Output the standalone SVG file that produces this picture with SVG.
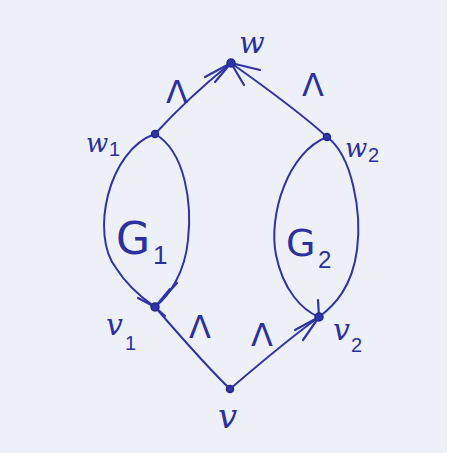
<svg xmlns="http://www.w3.org/2000/svg" width="450" height="457" viewBox="0 0 450 457">
<style>
.ln{fill:none;stroke:#2e35a8;stroke-width:2;stroke-linecap:round;stroke-linejoin:round}
.ar{fill:none;stroke:#2e35a8;stroke-width:2.2;stroke-linecap:round}
.dot{fill:#2e35a8;stroke:#23298c;stroke-width:1.5}
.lb{font-family:"DejaVu Serif","Liberation Serif",serif;font-style:italic;fill:#2a30a0}
.up{font-family:"DejaVu Sans","Liberation Sans",sans-serif;font-style:normal;fill:#2a30a0}
.sub{font-family:"Liberation Sans",sans-serif;fill:#2a30a0}
.lam{font-family:"DejaVu Sans","Liberation Sans",sans-serif;fill:#2a30a0;font-size:32px}
</style>
<rect x="0" y="0" width="450" height="457" fill="#eef0f8"/>
<rect x="447" y="0" width="3" height="457" fill="#ffffff"/>
<rect x="0" y="453" width="450" height="4" fill="#ffffff"/>
<g id="connectors">
<path class="ln" d="M155,134 C175,112 200,88 231,63"/>
<path class="ln" d="M231,63 C262,85 300,112 327,137"/>
<path class="ln" d="M155,307 C175,330 205,365 230,389"/>
<path class="ln" d="M230,389 C258,365 290,338 319,317"/>
<path class="ln" d="M155,134 C108,150 90,235 116,268 C130,290 148,302 155,307"/>
<path class="ln" d="M155,134 C186,152 192,205 188,240 C185,272 170,295 155,307"/>
<path class="ln" d="M327,137 C288,152 268,215 276,255 C283,290 302,310 319,317"/>
<path class="ln" d="M327,137 C352,155 362,212 357,250 C352,287 335,305 319,317"/>
<path class="ar" d="M231,63 L205,77 M231,63 L215,82 M231,63 L260,70 M231,63 L244,85"/>
<path class="ar" d="M155,307 L177,283 M155,307 L170,289 M155,307 L165,316 M155,307 L138,298"/>
<path class="ar" d="M319,317 L295,330 M319,317 L303,340 M319,317 L318,300"/>
</g>
<g id="node-w"><circle class="dot" cx="231" cy="63" r="4"/><text class="lb" x="239" y="53" font-size="30">w</text></g>
<g id="node-w1"><circle class="dot" cx="155" cy="134" r="3.5"/><text class="lb" x="86" y="152" font-size="26">w</text><text class="sub" x="109" y="156" font-size="20">1</text></g>
<g id="node-w2"><circle class="dot" cx="327" cy="137" r="3.5"/><text class="lb" x="345" y="157" font-size="26">w</text><text class="sub" x="368" y="162" font-size="20">2</text></g>
<g id="node-v1"><circle class="dot" cx="155" cy="307" r="4"/><text class="lb" x="106" y="335" font-size="30">v</text><text class="sub" x="125" y="350" font-size="20">1</text></g>
<g id="node-v2"><circle class="dot" cx="319" cy="317" r="4"/><text class="lb" x="333" y="340" font-size="30">v</text><text class="sub" x="351" y="352" font-size="20">2</text></g>
<g id="node-v"><circle class="dot" cx="230" cy="389" r="3.5"/><text class="lb" x="218" y="428" font-size="34">v</text></g>
<g id="G1"><text class="up" x="116" y="254" font-size="44">G</text><text class="sub" x="153" y="264" font-size="26">1</text></g>
<g id="G2"><text class="up" x="286" y="256" font-size="38">G</text><text class="sub" x="318" y="268" font-size="24">2</text></g>
<g id="labels">
<text class="lam" x="166" y="103">Λ</text>
<text class="lam" x="302" y="96">Λ</text>
<text class="lam" x="189" y="338">Λ</text>
<text class="lam" x="251" y="346">Λ</text>
</g>
</svg>
